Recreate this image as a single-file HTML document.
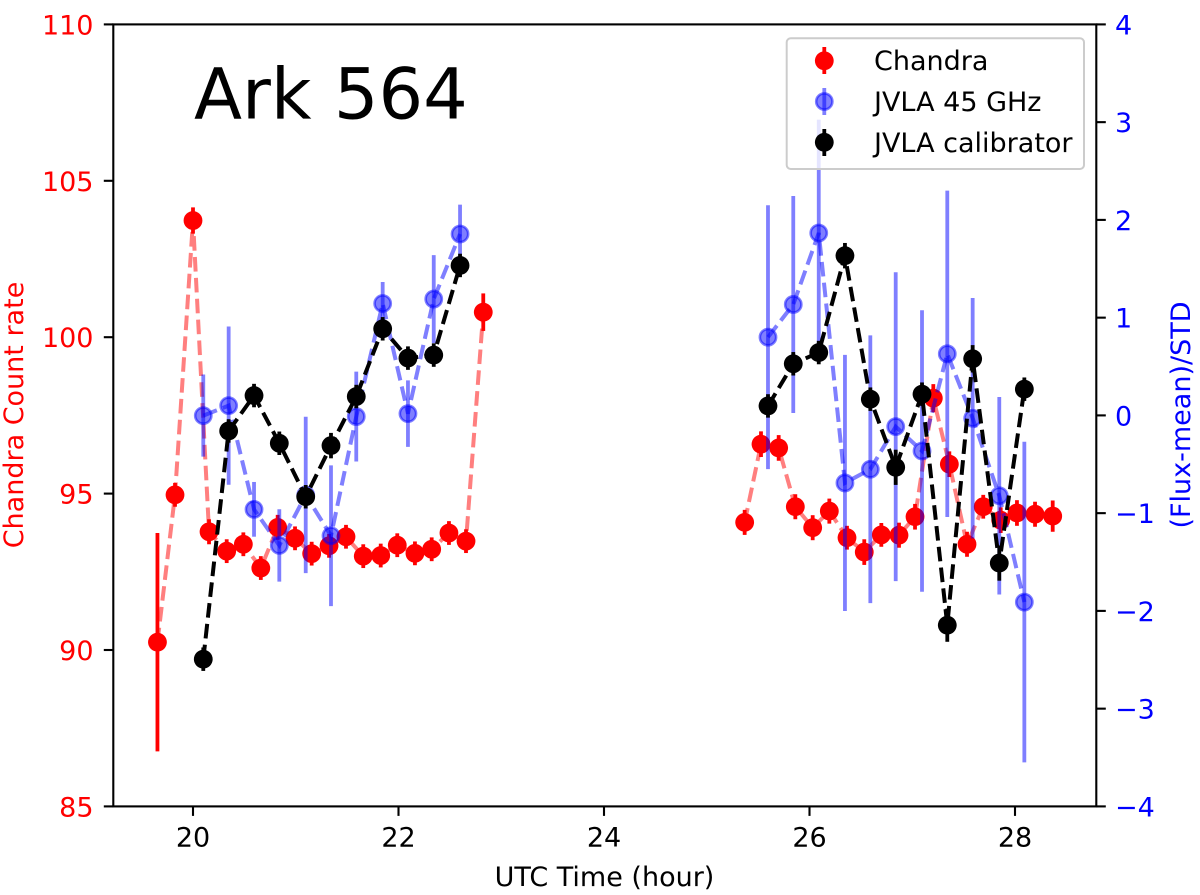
<!DOCTYPE html>
<html>
<head>
<meta charset="utf-8">
<title>Ark 564 light curve</title>
<style>
html,body{margin:0;padding:0;background:#fff;}
svg{display:block;}
text{font-family:"DejaVu Sans","Liberation Sans",sans-serif;font-size:27px;}
</style>
</head>
<body>
<svg id="chart" xmlns="http://www.w3.org/2000/svg" width="1200" height="895" viewBox="0 0 1200 895">
  <rect x="0" y="0" width="1200" height="895" fill="#fff"/>
  <g id="red-layer"></g>
  <g id="blue-layer"></g>
  <g id="black-layer"></g>
  <g id="axes-layer"></g>
  <text x="194" y="118.5" style="font-size:70.2px" fill="#000">Ark 564</text>
  <text x="604.5" y="886" text-anchor="middle" fill="#000">UTC Time (hour)</text>
  <text transform="translate(23,415) rotate(-90)" text-anchor="middle" fill="#f00">Chandra Count rate</text>
  <text transform="translate(1190,415) rotate(-90)" text-anchor="middle" fill="#00f">(Flux-mean)/STD</text>
  <g>
    <rect x="786.7" y="38.3" width="297.3" height="130.7" rx="4" ry="4" fill="#fff" fill-opacity="0.8" stroke="#ccc" stroke-width="2"/>
    <g>
      <line x1="824.3" x2="824.3" y1="47" y2="74" stroke="#f00" stroke-width="3.8"/>
      <circle cx="824.3" cy="60.8" r="9.4" fill="#f00"/>
      <text x="874" y="70" fill="#000">Chandra</text>
    </g>
    <g>
      <line x1="824.3" x2="824.3" y1="88" y2="115" stroke="#00f" stroke-opacity="0.5" stroke-width="3.8"/>
      <circle cx="824.3" cy="101.5" r="8.1" fill="#00f" fill-opacity="0.5" stroke="#00f" stroke-opacity="0.5" stroke-width="2.6"/>
      <text x="874" y="111" fill="#000">JVLA 45 GHz</text>
    </g>
    <g>
      <line x1="824.3" x2="824.3" y1="129" y2="156" stroke="#000" stroke-width="3.8"/>
      <circle cx="824.3" cy="142.3" r="9.4" fill="#000"/>
      <text x="874" y="152" fill="#000">JVLA calibrator</text>
    </g>
  </g>
</svg>
<script>
const xTickValues = [20, 22, 24, 26, 28];
const leftTickValues = [85, 90, 95, 100, 105, 110];
const rightTickValues = [-4, -3, -2, -1, 0, 1, 2, 3, 4];

const chandraHours = [19.654, 19.825, 20.0, 20.156, 20.328, 20.49, 20.66, 20.824, 20.993, 21.155, 21.324, 21.489, 21.657, 21.827, 21.988, 22.16, 22.323, 22.491, 22.657, 22.825, 25.369, 25.528, 25.70, 25.862, 26.031, 26.193, 26.365, 26.533, 26.699, 26.871, 27.027, 27.205, 27.361, 27.533, 27.691, 27.861, 28.019, 28.195, 28.367];
const chandraRates = [90.25, 94.96, 103.73, 93.78, 93.16, 93.38, 92.62, 93.92, 93.57, 93.08, 93.33, 93.62, 93.0, 93.02, 93.35, 93.09, 93.22, 93.74, 93.48, 100.8, 94.08, 96.58, 96.46, 94.58, 93.91, 94.44, 93.59, 93.13, 93.68, 93.67, 94.26, 98.05, 95.94, 93.38, 94.58, 94.15, 94.38, 94.34, 94.28];
const chandraErrors = [3.49, 0.38, 0.42, 0.40, 0.38, 0.38, 0.38, 0.40, 0.38, 0.38, 0.38, 0.38, 0.38, 0.38, 0.38, 0.38, 0.38, 0.38, 0.38, 0.6, 0.40, 0.41, 0.41, 0.40, 0.40, 0.40, 0.38, 0.41, 0.38, 0.40, 0.41, 0.45, 0.41, 0.40, 0.38, 0.41, 0.41, 0.40, 0.50];

const jvlaHours = [20.10, 20.347, 20.594, 20.84, 21.097, 21.343, 21.589, 21.846, 22.092, 22.343, 22.599, 25.596, 25.842, 26.09, 26.345, 26.592, 26.839, 27.095, 27.341, 27.588, 27.847, 28.091];
const jvlaFlux = [-0.002, 0.10, -0.961, -1.33, -0.814, -1.231, -0.012, 1.145, 0.018, 1.19, 1.856, 0.80, 1.135, 1.866, -0.691, -0.551, -0.115, -0.364, 0.63, -0.029, -0.822, -1.91];
const jvlaErrors = [0.42, 0.81, 0.28, 0.37, 0.80, 0.72, 0.46, 0.22, 0.34, 0.45, 0.30, 1.35, 1.11, 1.16, 1.31, 1.37, 1.58, 1.44, 1.67, 1.23, 1.01, 1.64];

const calibratorFlux = [-2.494, -0.159, 0.203, -0.285, -0.832, -0.309, 0.193, 0.886, 0.586, 0.617, 1.534, 0.097, 0.528, 0.643, 1.634, 0.166, -0.531, 0.217, -2.146, 0.579, -1.511, 0.268];
const calibratorErrors = [0.12, 0.12, 0.12, 0.12, 0.12, 0.13, 0.12, 0.12, 0.12, 0.12, 0.12, 0.12, 0.12, 0.12, 0.13, 0.12, 0.18, 0.12, 0.17, 0.14, 0.18, 0.12];

const SVGNS = 'http://www.w3.org/2000/svg';
const plotLeft = 113.3, plotRight = 1096.3, plotTop = 24.4, plotBottom = 806.4;
function xScale(h) { return 193 + (h - 20) * 102.75; }
function yLeft(v) { return plotBottom - (v - 85) * (plotBottom - plotTop) / 25; }
function yRight(v) { return (plotTop + plotBottom) / 2 - v * (plotBottom - plotTop) / 8; }
function make(tag, parent, attrs) {
  const el = document.createElementNS(SVGNS, tag);
  for (const k in attrs) el.setAttribute(k, attrs[k]);
  parent.appendChild(el);
  return el;
}
function drawSeries(layerId, slug, hours, values, errors, yFn, style) {
  const layer = document.getElementById(layerId);
  let segments = [[]];
  hours.forEach(function (h, i) {
    if (i > 0 && h - hours[i - 1] > 1) segments.push([]);
    segments[segments.length - 1].push(xScale(h).toFixed(2) + ',' + yFn(values[i]).toFixed(2));
  });
  segments.forEach(function (seg) {
    const line = make('polyline', layer, {points: seg.join(' '), fill: 'none', stroke: style.color, 'stroke-opacity': style.lineAlpha, 'stroke-width': 4, 'stroke-dasharray': '14.6 6.3'});
    
    
  });
  hours.forEach(function (h, i) {
    const x = xScale(h), y = yFn(values[i]);
    const bar = make('line', layer, {x1: x, x2: x, y1: yFn(values[i] + errors[i]), y2: yFn(values[i] - errors[i]), stroke: style.color, 'stroke-opacity': style.barAlpha, 'stroke-width': 3.8});
    
    
    const dot = make('circle', layer, style.ring
      ? {cx: x, cy: y, r: 8.1, fill: style.color, 'fill-opacity': 0.5, stroke: style.color, 'stroke-opacity': 0.5, 'stroke-width': 2.6}
      : {cx: x, cy: y, r: 9.4, fill: style.color});
    
    
  });
}
drawSeries('red-layer', 'chandra', chandraHours, chandraRates, chandraErrors, yLeft, {color: '#f00', lineAlpha: 0.5, barAlpha: 1, ring: false});
drawSeries('blue-layer', 'jvla-45ghz', jvlaHours, jvlaFlux, jvlaErrors, yRight, {color: '#00f', lineAlpha: 0.5, barAlpha: 0.5, ring: true});
drawSeries('black-layer', 'jvla-calibrator', jvlaHours, calibratorFlux, calibratorErrors, yRight, {color: '#000', lineAlpha: 1, barAlpha: 1, ring: false});

const axes = document.getElementById('axes-layer');
const spine = make('rect', axes, {x: plotLeft, y: plotTop, width: plotRight - plotLeft, height: plotBottom - plotTop, fill: 'none', stroke: '#000', 'stroke-width': 2.1});


xTickValues.forEach(function (v) {
  const x = xScale(v);
  const t = make('line', axes, {x1: x, x2: x, y1: plotBottom, y2: plotBottom + 9.5, stroke: '#000', 'stroke-width': 2.1});
  
  
  const lab = make('text', axes, {x: x, y: 846.7, 'text-anchor': 'middle', fill: '#000'});
  
  
  lab.textContent = String(v);
});
leftTickValues.forEach(function (v) {
  const y = yLeft(v);
  const t = make('line', axes, {x1: plotLeft - 9.5, x2: plotLeft, y1: y, y2: y, stroke: '#000', 'stroke-width': 2.1});
  
  
  const lab = make('text', axes, {x: 93.5, y: y + 10, 'text-anchor': 'end', fill: '#f00'});
  
  
  lab.textContent = String(v);
});
rightTickValues.forEach(function (v) {
  const y = yRight(v);
  const t = make('line', axes, {x1: plotRight, x2: plotRight + 9.5, y1: y, y2: y, stroke: '#000', 'stroke-width': 2.1});
  
  
  const lab = make('text', axes, {x: 1115, y: y + 10, fill: '#00f'});
  
  
  lab.textContent = (v < 0 ? '\u2212' + Math.abs(v) : String(v));
});
</script>
</body>
</html>
